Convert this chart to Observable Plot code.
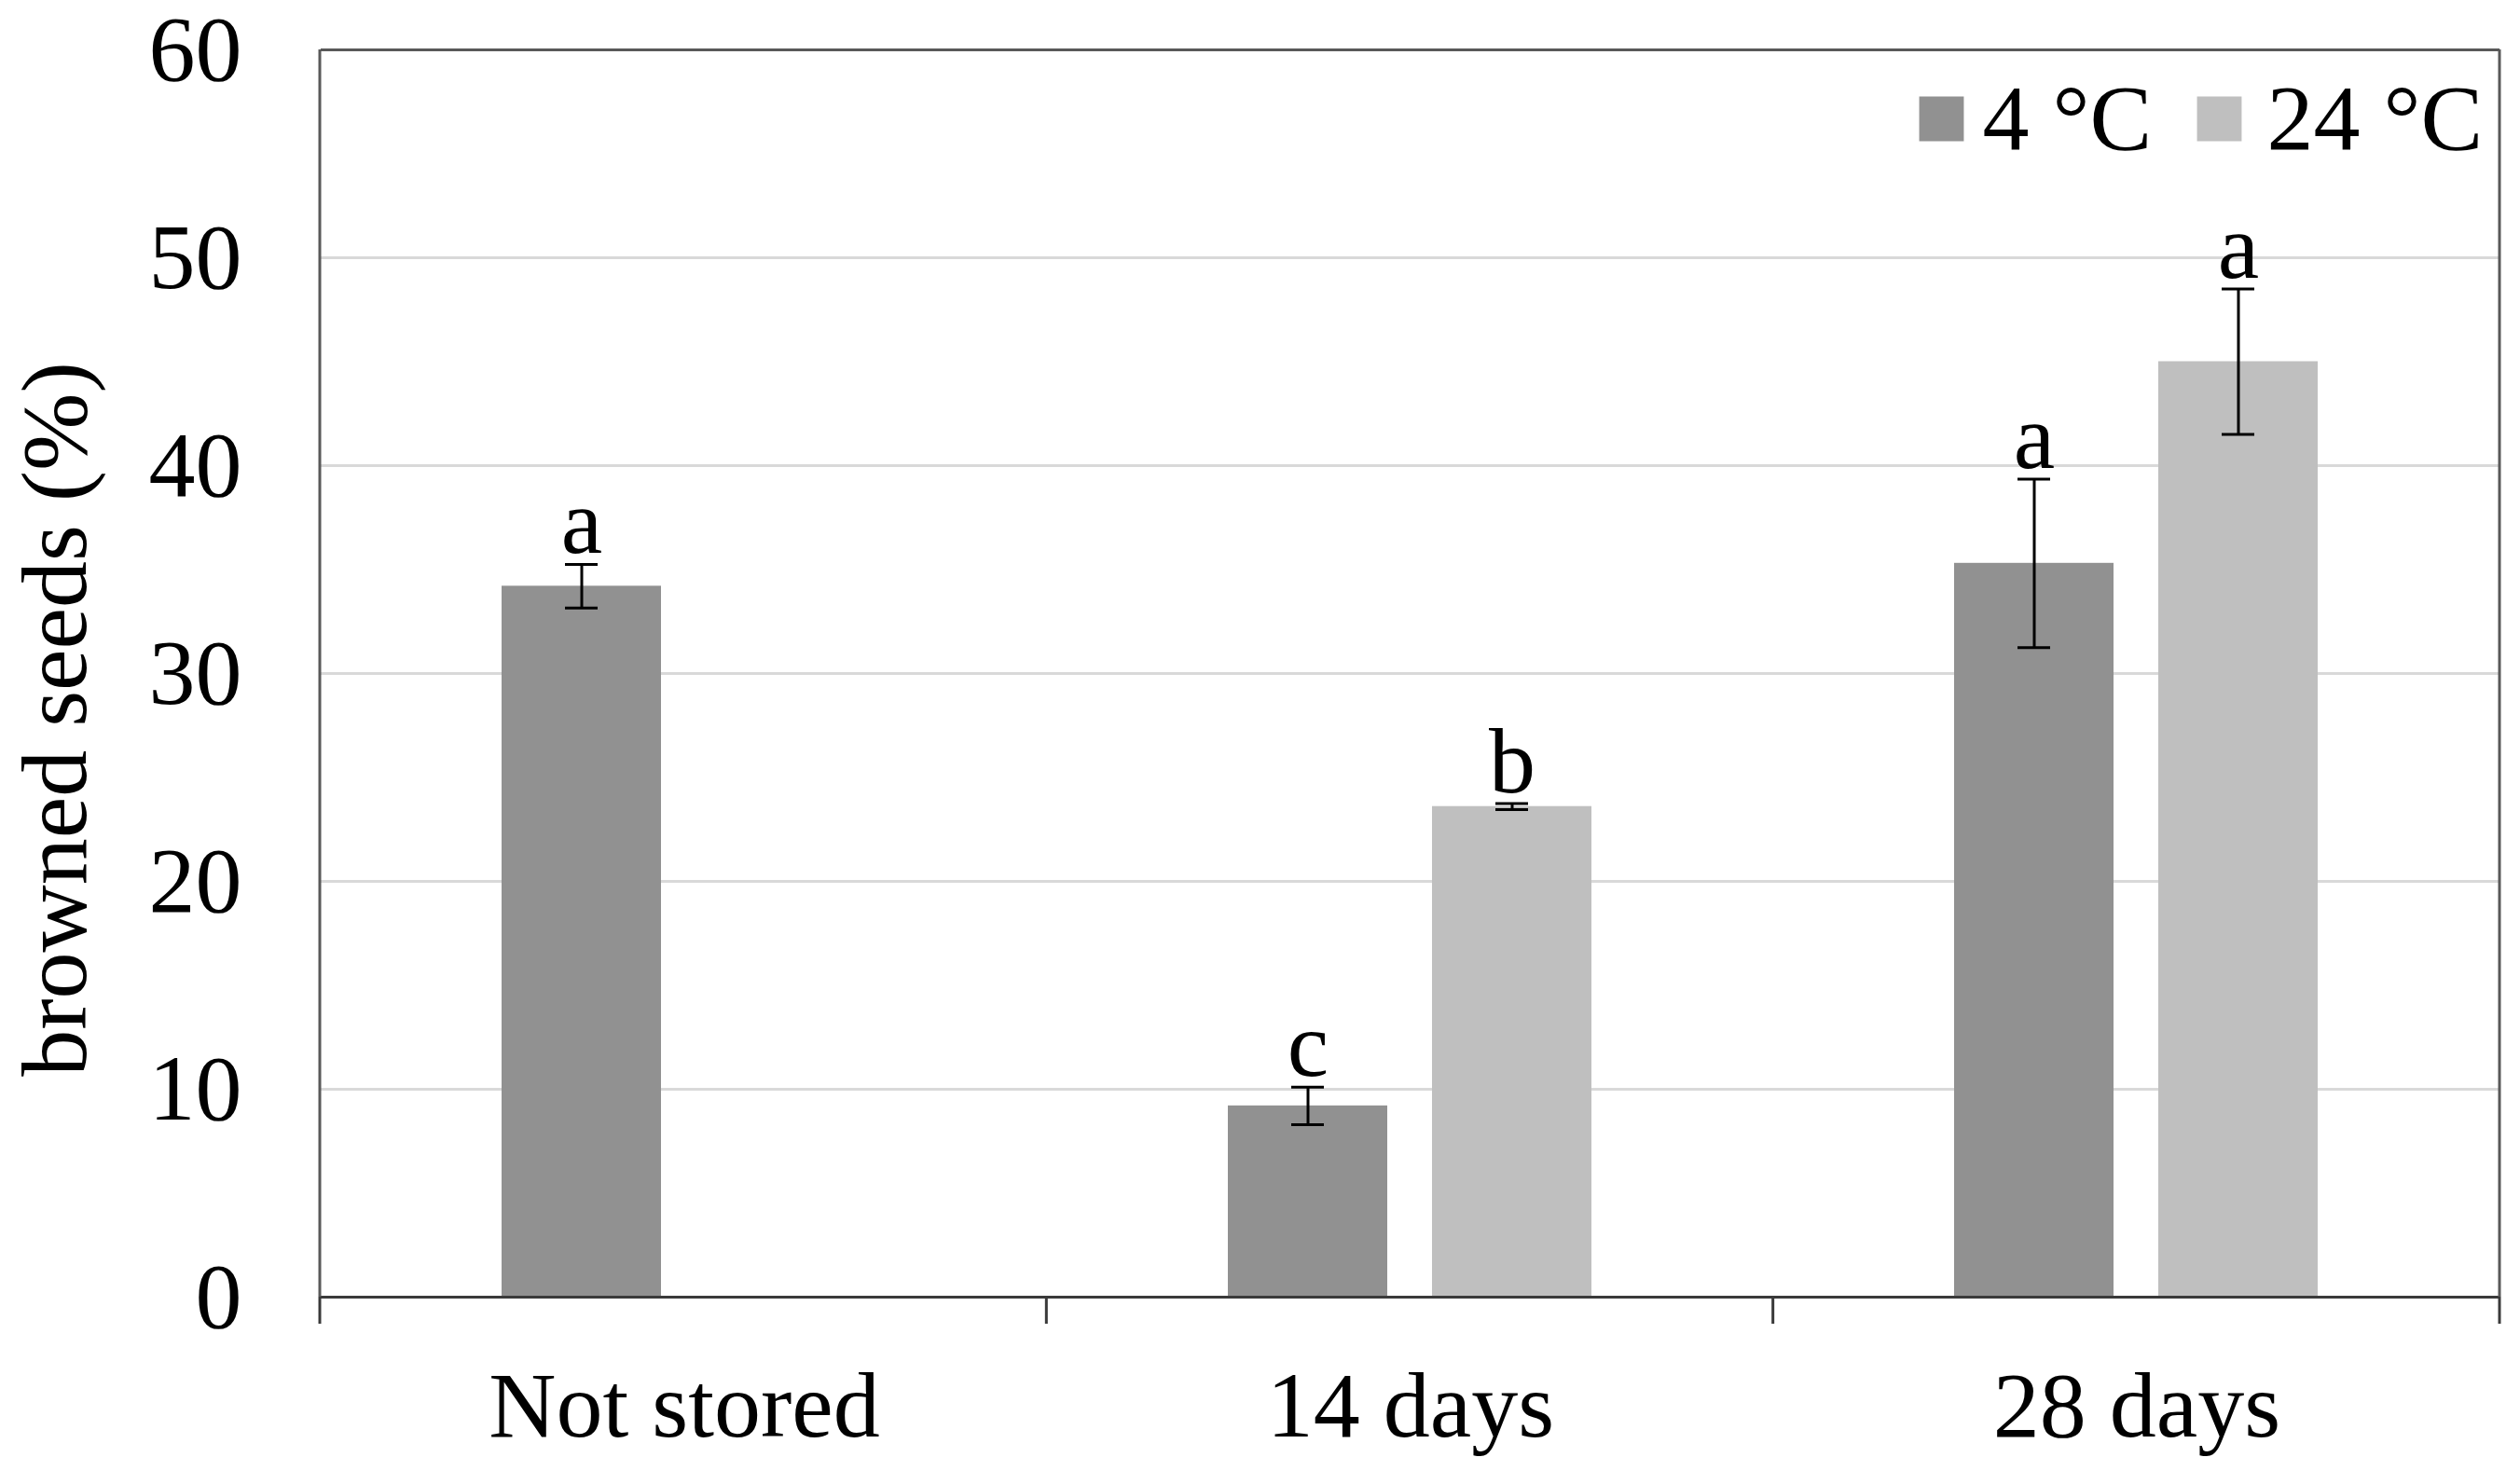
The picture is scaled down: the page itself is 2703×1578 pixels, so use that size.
<!DOCTYPE html>
<html>
<head>
<meta charset="utf-8">
<script src="https://cdn.jsdelivr.net/npm/d3@7"></script>
<script src="https://cdn.jsdelivr.net/npm/@observablehq/plot@0.6"></script>
<style>
  html, body { margin: 0; padding: 0; background: #fff; }
</style>
</head>
<body>
<div id="chart"></div>
<script>
// ---- data ----
const periods = ["Not stored", "14 days", "28 days"];
const temps = ["4 °C", "24 °C"];
const barPeriod = ["Not stored", "14 days", "14 days", "28 days", "28 days"];
const barTemp = ["4 °C", "4 °C", "24 °C", "4 °C", "24 °C"];
const barValue = [34.2, 9.2, 23.6, 35.3, 45.0];
const barError = [1.05, 0.9, 0.15, 4.05, 3.5];
const barLetter = ["a", "c", "b", "a", "a"];
const yTicks = [0, 10, 20, 30, 40, 50, 60];
const colors = ["#919191", "#bfbfbf"];
const yLabel = "browned seeds (%)";

const data = barValue.map((v, i) => ({
  period: barPeriod[i], temp: barTemp[i], value: v,
  lo: v - barError[i], hi: v + barError[i], letter: barLetter[i]
}));
const legendItems = temps.map(t => ({period: periods[periods.length - 1], temp: t}));
const labelItem = [{period: periods[0], label: yLabel}];

// legend layout offsets from top-right of the last facet
const legendSquareDx = [-599, -301];
const legendTextDx = [-555, -250];

const font = "'Liberation Serif', 'Times New Roman', Times, serif";

const plot = Plot.plot({
  width: 2703,
  height: 1578,
  marginLeft: 343,
  marginRight: 22,
  marginTop: 53,
  marginBottom: 187,
  style: {fontFamily: font, fontSize: "100px", color: "#000", background: "#fff", overflow: "visible"},
  fx: {domain: periods, padding: 0, label: null, axis: "bottom", tickSize: 0, tickPadding: 78},
  x: {domain: temps, paddingInner: 0.218, paddingOuter: 0.88, axis: null},
  y: {domain: [0, 60], ticks: yTicks, tickSize: 0, tickPadding: 85, label: null},
  color: {domain: temps, range: colors},
  marks: [
    Plot.ruleY(yTicks.filter(t => t > 0 && t < 60), {stroke: "#d9d9d9", strokeWidth: 3}),
    Plot.barY(data, {fx: "period", x: "temp", y: "value", fill: "temp"}),
    Plot.ruleX(data, {fx: "period", x: "temp", y1: "lo", y2: "hi", stroke: "#000", strokeWidth: 3}),
    Plot.tickY(data, {fx: "period", x: "temp", y: "lo", stroke: "#000", strokeWidth: 3, insetLeft: 68, insetRight: 68}),
    Plot.tickY(data, {fx: "period", x: "temp", y: "hi", stroke: "#000", strokeWidth: 3, insetLeft: 68, insetRight: 68}),
    Plot.text(data, {fx: "period", x: "temp", y: "hi", text: "letter", lineAnchor: "bottom", dy: -12, fill: "#000"}),
    Plot.ruleY([60], {stroke: "#595959", strokeWidth: 3}),
    Plot.ruleY([0], {stroke: "#3a3a3a", strokeWidth: 3}),
    ...legendItems.map((d, i) => Plot.dot([d], {fx: "period", frameAnchor: "top-right", dx: legendSquareDx[i], dy: 74, symbol: "square", r: 27, fill: colors[i], stroke: "none"})),
    ...legendItems.map((d, i) => Plot.text([d], {fx: "period", text: "temp", frameAnchor: "top-right", textAnchor: "start", lineAnchor: "bottom", dx: legendTextDx[i], dy: 106, fill: "#000"})),
    Plot.text(labelItem, {fx: "period", text: "label", frameAnchor: "left", textAnchor: "middle", lineAnchor: "middle", rotate: -90, dx: -285, dy: 49, fill: "#000"})
  ]
});

// frame sides and category boundary ticks, from the library's scales
const fxs = plot.scale("fx");
const ys = plot.scale("y");
const r0 = fxs.range[0], r1 = fxs.range[1];
const step = (r1 - r0) / periods.length;
const y0 = ys.apply(0), yTop = ys.apply(60);
const svg = d3.select(plot);
const g = svg.append("g");
[r0, r1].forEach(xv => {
  g.append("line").attr("x1", xv).attr("x2", xv).attr("y1", yTop).attr("y2", y0)
    .attr("stroke", "#595959").attr("stroke-width", 3);
});
d3.range(periods.length + 1).forEach(i => {
  const xv = r0 + i * step;
  g.append("line").attr("x1", xv).attr("x2", xv).attr("y1", y0).attr("y2", y0 + 29)
    .attr("stroke", "#3a3a3a").attr("stroke-width", 3);
});

document.getElementById("chart").appendChild(plot);
</script>
</body>
</html>
